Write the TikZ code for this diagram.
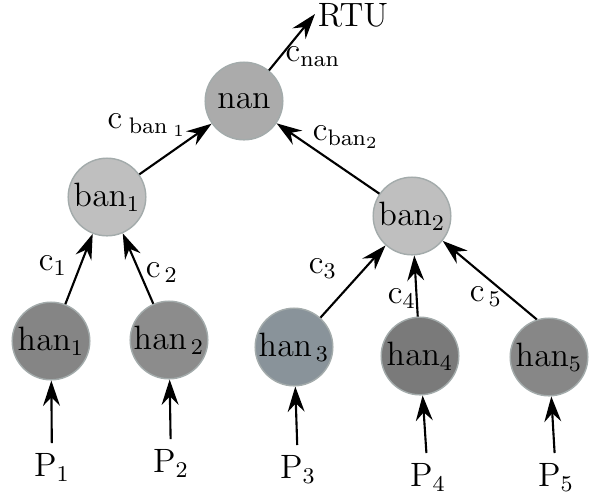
\documentclass[tikz,border=0pt]{standalone}
\usetikzlibrary{arrows.meta}
\definecolor{rimgray}{HTML}{A3ABAB}
\tikzset{
  unit/.style={circle, draw=rimgray, line width=0.5pt, minimum size=0.97cm, inner sep=0pt},
  link/.style={line width=0.75pt, -{Stealth[length=9pt, width=6pt, inset=3pt]}},
  lbl/.style={inner sep=1pt}
}
\begin{document}
\begin{tikzpicture}[x=0.0125cm, y=-0.0125cm, font=\large]
\useasboundingbox (0,0) rectangle (600,500);
\node[unit, fill=black!33] (nan) at (244,101) {$\mathrm{nan}$};
\node[unit, fill=black!25] (ban1) at (107,197) {$\mathrm{ban}_1$};
\node[unit, fill=black!25] (ban2) at (412,216) {$\mathrm{ban}_2$};
\node[unit, fill=black!48] (han1) at (51,341) {$\mathrm{han}_1$};
\node[unit, fill=black!45] (han2) at (169,340) {$\mathrm{han}_{\,2}$};
\node[unit, fill={rgb,255:red,137;green,147;blue,154}] (han3) at (294,347) {$\mathrm{han}_{\,3}$};
\node[unit, fill=black!52] (han4) at (420,356) {$\mathrm{han}_4$};
\node[unit, fill=black!47] (han5) at (549,357) {$\mathrm{han}_5$};
\node (rtu) at (353,15) {RTU};
\coordinate (up) at (315,14);
\node (p1) at (52,467) {$\mathrm{P}_1$};
\node (p2) at (171,463) {$\mathrm{P}_2$};
\node (p3) at (298,469) {$\mathrm{P}_3$};
\node (p4) at (428,477) {$\mathrm{P}_4$};
\node (p5) at (556,477) {$\mathrm{P}_5$};
\draw[link] (nan) -- (up);
\draw[link] (ban1) -- (nan);
\draw[link] (ban2) -- (nan);
\draw[link] (han1) -- (ban1);
\draw[link] (han2) -- (ban1);
\draw[link] (han3) -- (ban2);
\draw[link] (han4) -- (ban2);
\draw[link] (han5.108) -- (ban2.-39);
\draw[link] (p1) -- (han1);
\draw[link] (p2) -- (han2);
\draw[link] (p3) -- (han3);
\draw[link] (p4) -- (han4);
\draw[link] (p5) -- (han5);
\node[lbl] (cnan) at (313,57) {$\mathrm{c}_{\mathrm{nan}}$};
\node[lbl] (cban1) at (147,125) {$\mathrm{c}_{\;\mathrm{ban}_{\;1}}$};
\node[lbl] (cban2) at (346,137) {$\mathrm{c}_{\mathrm{ban}_2}$};
\node[lbl] (c1) at (53,266) {$\mathrm{c}_1$};
\node[lbl] (c2) at (162,273) {$\mathrm{c}_{\,2}$};
\node[lbl] (c3) at (323,269) {$\mathrm{c}_3$};
\node[lbl] (c4) at (402,299) {$\mathrm{c}_4$};
\node[lbl] (c5) at (486,297) {$\mathrm{c}_{\,5}$};
\end{tikzpicture}
\end{document}
